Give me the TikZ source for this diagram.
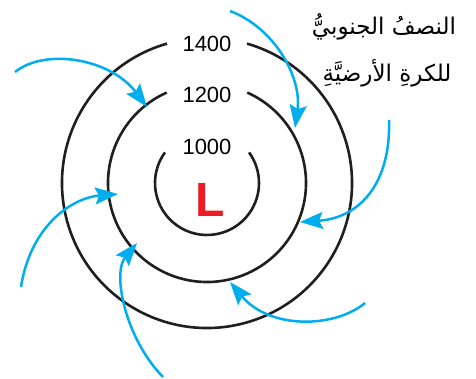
\documentclass[tikz,border=0pt]{standalone}
\usepackage{fontspec}
\setmainfont{Liberation Sans}
\newfontfamily\arabicfont[Script=Arabic]{DejaVu Sans}
\TeXXeTstate=1
\usetikzlibrary{arrows.meta}
\definecolor{windblue}{RGB}{0,174,239}
\definecolor{lowred}{RGB}{237,28,36}

\begin{document}
\begin{tikzpicture}[x=1pt,y=1pt,
  isobar/.style={line width=2.6pt,black!88},
  wind/.style={line width=2.5pt,windblue,-{Stealth[length=23pt,width=17pt,inset=4pt]}},
  level/.style={font=\fontsize{22}{22}\selectfont},
  hemi/.style={anchor=base,font=\arabicfont\fontsize{23}{23}\selectfont}]
\useasboundingbox (0,0) rectangle (476,378);
\coordinate (ctr) at (207,195);
% isobars, open at the top for the labels
\draw[isobar] (ctr) ++(106:145) arc[start angle=106,end angle=434,radius=145];
\draw[isobar] (ctr) ++(114:99) arc[start angle=114,end angle=426,radius=99];
\draw[isobar] (ctr) ++(144:52) arc[start angle=144,end angle=396,radius=52];
\node[level] (p1400) at (207,334) {1400};
\node[level] (p1200) at (207,283) {1200};
\node[level] (p1000) at (207,231) {1000};
\node[lowred,font=\bfseries\fontsize{48}{48}\selectfont] (low) at (210,178) {L};
% hemisphere label
\node[hemi] (hemi1) at (384,343) {\beginR النصفُ الجنوبيُّ\endR};
\node[hemi] (hemi2) at (387,296) {\beginR للكرةِ الأرضيَّةِ\endR};
% winds
\draw[wind] (15,306) .. controls (45,330) and (110,320) .. (147,271);
\draw[wind] (230,367) .. controls (275,350) and (302,300) .. (295,250);
\draw[wind] (389,258) .. controls (391,195) and (360,160) .. (300,156);
\draw[wind] (365,75) .. controls (335,50) and (270,48) .. (230,96);
\draw[wind] (163,1) .. controls (125,40) and (112,105) .. (137,135);
\draw[wind] (21,91) .. controls (30,150) and (70,180) .. (118,184);
\end{tikzpicture}
\end{document}
